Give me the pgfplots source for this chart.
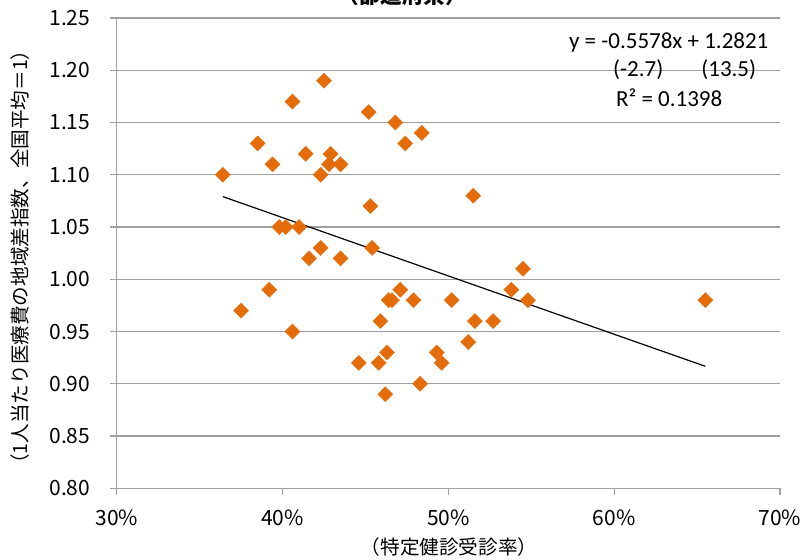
\documentclass[border=0pt]{standalone}
\usepackage{fontspec}
\setmainfont{Noto Sans CJK JP}
\newfontfamily\calib{Carlito}
\usepackage{pgfplots}
\pgfplotsset{compat=1.18}
\definecolor{xlorange}{HTML}{E46C0A}
\definecolor{gridgray}{RGB}{160,160,160}
\begin{document}
\begin{tikzpicture}
\begin{axis}[
  scale only axis, width=331.65pt, height=235.15pt,
  xmin=30, xmax=70, ymin=0.8, ymax=1.25,
  axis x line*=bottom, axis y line*=left,
  axis line style={draw=gridgray, line width=0.6pt, -},
  xtick={30,40,50,60,70}, xticklabels={30\%,40\%,50\%,60\%,70\%},
  ytick={0.80,0.85,0.90,0.95,1.00,1.05,1.10,1.15,1.20,1.25},
  yticklabels={0.80,0.85,0.90,0.95,1.00,1.05,1.10,1.15,1.20,1.25},
  tick align=outside, major tick length=3.3pt,
  tick style={draw=gridgray, line width=0.6pt},
  ymajorgrids, grid style={draw=gridgray, line width=0.7pt},
  ticklabel style={font=\fontsize{10.5}{12}\selectfont, inner sep=0pt},
  xticklabel style={anchor=north, yshift=-7.5pt},
  yticklabel style={anchor=east, xshift=-9.7pt},
  clip=false,
]
\addplot[only marks, mark=square*, mark size=2.7pt, mark options={rotate=45, fill=xlorange, draw=xlorange, line width=0.1pt}] coordinates {
(36.4,1.10) (38.5,1.13) (39.4,1.11) (40.6,1.17) (41.4,1.12) (42.5,1.19)
(42.3,1.10) (42.9,1.12) (42.8,1.11) (43.5,1.11) (45.2,1.16) (46.8,1.15)
(47.4,1.13) (48.4,1.14) (45.3,1.07) (51.5,1.08) (39.8,1.05) (40.2,1.05)
(41.0,1.05) (41.6,1.02) (42.3,1.03) (43.5,1.02) (45.4,1.03) (37.5,0.97)
(39.2,0.99) (40.6,0.95) (44.6,0.92) (45.8,0.92) (46.3,0.93) (46.2,0.89)
(45.9,0.96) (46.4,0.98) (46.6,0.98) (47.1,0.99) (47.9,0.98) (50.2,0.98)
(48.3,0.90) (49.3,0.93) (49.6,0.92) (51.2,0.94) (51.6,0.96) (52.7,0.96)
(53.8,0.99) (54.5,1.01) (54.8,0.98) (65.5,0.98)
};
\addplot[black, line width=0.6pt] coordinates {(36.4,1.0791) (65.5,0.9167)};
\node[font=\calib\fontsize{11.5}{13}\selectfont, anchor=center] at (axis cs:63.29,1.2261) {y = -0.5578x + 1.2821};
\node[font=\calib\fontsize{11.5}{13}\selectfont, anchor=center] at (axis cs:61.45,1.2003) {(-2.7)};
\node[font=\calib\fontsize{11.5}{13}\selectfont, anchor=center] at (axis cs:66.91,1.2003) {(13.5)};
\node[font=\calib\fontsize{11.5}{13}\selectfont, anchor=center] at (axis cs:63.32,1.1735) {R² = 0.1398};
\node[rotate=90, anchor=center, font=\fontsize{9.8}{11}\selectfont] at (rel axis cs:-0.1458,0.4915) {（1人当たり医療費の地域差指数、全国平均＝1）};
\node[anchor=center, font=\fontsize{9.8}{11}\selectfont] at (rel axis cs:0.501,-0.1248) {（特定健診受診率）};
\end{axis}
\node[font=\bfseries\fontsize{10.8}{13}\selectfont, anchor=base] at (142.65pt,242.5pt) {（都道府県）};
\pgfresetboundingbox
\useasboundingbox (-58.35pt,-35.85pt) rectangle (342.65pt,244.15pt);
\end{tikzpicture}
\end{document}
